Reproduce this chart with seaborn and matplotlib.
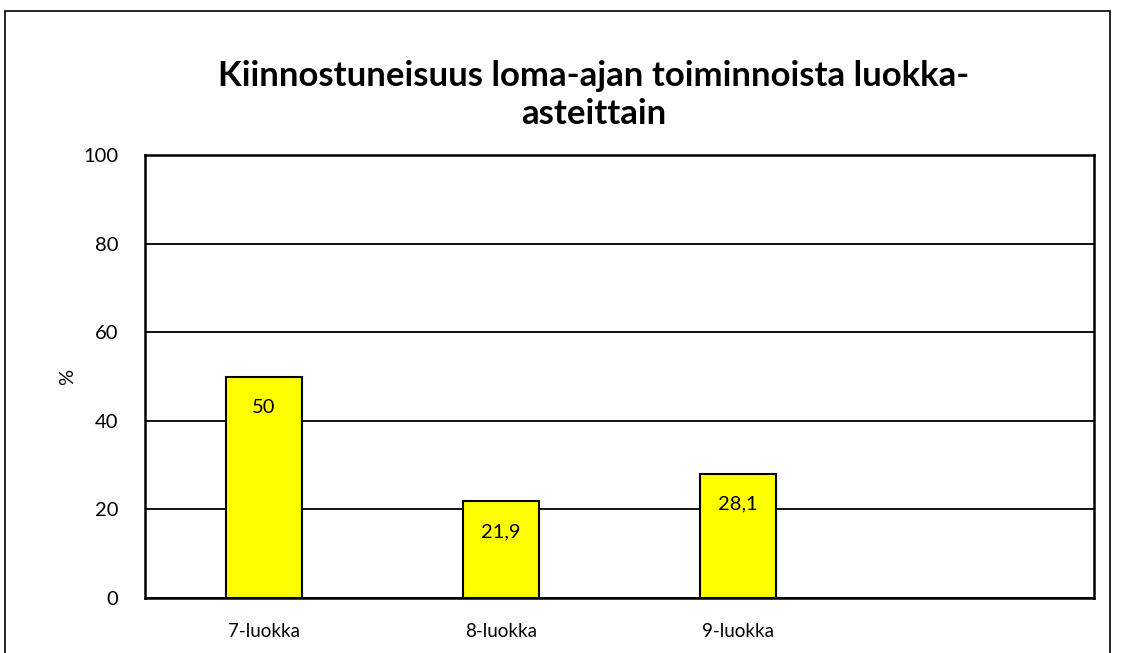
import matplotlib
matplotlib.use("Agg")
import matplotlib.pyplot as plt
import seaborn as sns
import pandas as pd
from matplotlib.patches import Rectangle

categories = ["7-luokka", "8-luokka", "9-luokka"]
values = [50, 21.9, 28.1]
value_labels = ["50", "21,9", "28,1"]
order = categories + [""]
yticks = [0, 20, 40, 60, 80, 100]

sns.set_theme(style="white")
plt.rcParams["font.family"] = ["Lato", "DejaVu Sans"]
plt.rcParams["text.color"] = "black"
plt.rcParams["xtick.color"] = "black"
plt.rcParams["ytick.color"] = "black"
plt.rcParams["axes.labelcolor"] = "black"

fig = plt.figure(figsize=(11.22, 6.53), dpi=100)
ax = fig.add_axes([145/1122, 1-598/653, (1094-145)/1122, (598-155)/653])

df = pd.DataFrame({"cat": categories, "val": values})
sns.barplot(data=df, x="cat", y="val", order=order, color="#FFFF00",
            edgecolor="black", linewidth=1.5, width=0.32, saturation=1, ax=ax)

ax.set_ylim(0, 100)
ax.set_xlim(-0.5, 3.5)
ax.set_yticks(yticks)
ax.set_yticklabels([str(t) for t in yticks], fontsize=14.5)
ax.tick_params(axis="x", labelsize=13.5, length=0, pad=18)
ax.tick_params(axis="y", length=0, pad=19)
ax.set_xlabel("")
ax.set_ylabel("%", fontsize=14.5, labelpad=5)
ax.yaxis.grid(True, color="black", linewidth=1.3)
ax.set_axisbelow(True)
for s in ax.spines.values():
    s.set_visible(True)
    s.set_color("black")
    s.set_linewidth(1.8)

for i, (v, lab) in enumerate(zip(values, value_labels)):
    ax.annotate(lab, (i, v), xytext=(0, -22), textcoords="offset points",
                ha="center", va="center", fontsize=14.5)

fig.text(594/1122, 1-76/653, "Kiinnostuneisuus loma-ajan toiminnoista luokka-",
         ha="center", va="center", fontsize=25, fontweight="bold")
fig.text(594/1122, 1-114/653, "asteittain",
         ha="center", va="center", fontsize=25, fontweight="bold")

fig.patches.append(Rectangle((5/1122, -0.05), (1110-5)/1122, 1.05 - 11/653,
                             transform=fig.transFigure, fill=False,
                             edgecolor="black", linewidth=1.2))

fig.savefig("out.png", dpi=100)
